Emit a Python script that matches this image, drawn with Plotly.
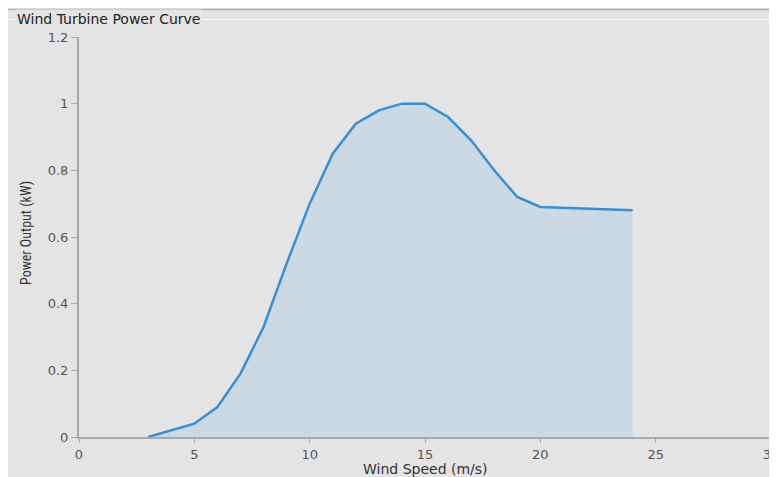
import plotly.graph_objects as go

wind_speed = [3, 4, 5, 6, 7, 8, 9, 10, 11, 12, 13, 14, 15, 16, 17, 18, 19, 20, 24]
power_kw = [0.0, 0.02, 0.04, 0.09, 0.19, 0.33, 0.52, 0.70, 0.85, 0.94, 0.98, 1.0, 1.0, 0.96, 0.89, 0.80, 0.72, 0.69, 0.68]
x_ticks = [0, 5, 10, 15, 20, 25, 30]
y_ticks = [0, 0.2, 0.4, 0.6, 0.8, 1.0, 1.2]

# page body has 8px margin; work in screen pixels, figure offset by OFF
OFF = 8
W, H = 777, 477
sL, sR, sT, sB = 79, 771, 37, 437  # plot area in screen pixels
L = sL - OFF
T = sT - OFF
R = W - (sR - OFF)
B = H - (sB - OFF)
PW, PH = W - L - R, H - T - B

def px(x):
    return (x - OFF - L) / PW

def py(y):
    return (H - B - (y - OFF)) / PH

FONT = "DejaVu Sans, Open Sans, sans-serif"

fig = go.Figure()
fig.add_trace(go.Scatter(
    x=wind_speed, y=power_kw, mode="lines",
    line=dict(color="#3590d6", width=2.5),
    fill="tozeroy", fillcolor="#cad9e4",
    hoverinfo="skip", showlegend=False,
))

axis_common = dict(
    showgrid=False, zeroline=False, showline=True,
    linecolor="#a9a9a9", linewidth=2,
    ticks="outside", tickcolor="#a9a9a9", tickwidth=1,
    tickfont=dict(family=FONT, size=13, color="#555555"),
    automargin=False, fixedrange=True,
)

fig.update_xaxes(range=[0, 30], tickvals=x_ticks, ticklen=4, **axis_common)
fig.update_yaxes(range=[0, 1.2], tickvals=y_ticks, ticklen=6, **axis_common)

shapes = [
    # gray separating line at top
    dict(type="line", xref="paper", yref="paper", x0=px(0), x1=px(W + 20), y0=py(9.5), y1=py(9.5),
         line=dict(color="#b4b4b4", width=1.5), layer="below"),
    # white group box line
    dict(type="line", xref="paper", yref="paper", x0=px(8), x1=px(W + 20), y0=py(19.5), y1=py(19.5),
         line=dict(color="#f8f8f8", width=1), layer="below"),
]

annotations = [
    dict(text="Wind Turbine Power Curve", xref="paper", yref="paper",
         x=px(15), y=py(19), xanchor="left", yanchor="middle", showarrow=False,
         bgcolor="#e4e4e4", borderpad=1,
         font=dict(family=FONT, size=14, color="#222222")),
    dict(text="Wind Speed (m/s)", xref="paper", yref="paper",
         x=px(425), y=py(469), xanchor="center", yanchor="middle", showarrow=False,
         font=dict(family=FONT, size=14, color="#333333")),
    dict(text="Power Output (kW)", xref="paper", yref="paper",
         x=px(26), y=py(233), xanchor="center", yanchor="middle", showarrow=False,
         textangle=-90,
         font=dict(family="Liberation Sans Narrow, Roboto Condensed, Roboto, sans-serif", size=14, color="#333333")),
]

fig.update_layout(
    width=W, height=H,
    margin=dict(l=L, r=R, t=T, b=B, pad=0),
    paper_bgcolor="#e4e4e4", plot_bgcolor="#e4e4e4",
    shapes=shapes, annotations=annotations,
    showlegend=False,
)

fig.write_html("out.html", config={"displayModeBar": False})
